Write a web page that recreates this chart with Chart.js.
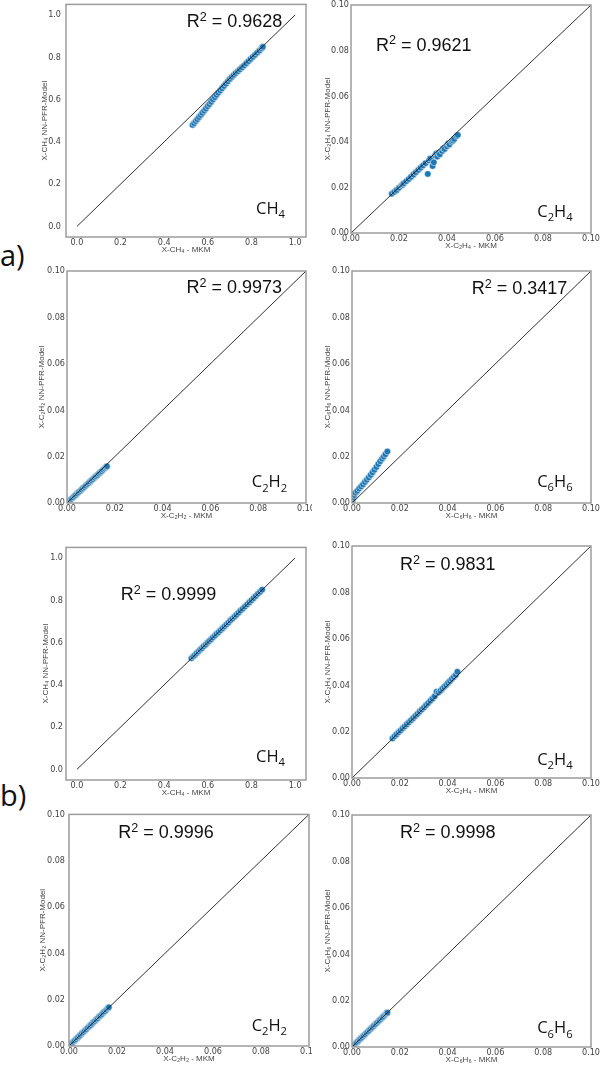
<!DOCTYPE html>
<html>
<head>
<meta charset="utf-8">
<script src="https://cdn.jsdelivr.net/npm/chart.js@4.4.0/dist/chart.umd.min.js"></script>
<style>
html, body { margin: 0; padding: 0; background: #fff; }
body { width: 601px; height: 1069px; position: relative; overflow: hidden; }
canvas { position: absolute; }
canvas.right { background: #fff; }
.tag { position: absolute; left: 0; font-family: 'Open Sans', sans-serif; font-size: 29px; line-height: 1; color: #111; }
</style>
</head>
<body>
<div class="tag" style="top:240px">a)</div>
<div class="tag" style="top:780px">b)</div>
<script>
// tick values
const ticksCH4 = [0.0, 0.2, 0.4, 0.6, 0.8, 1.0];
const ticksSmall = [0.00, 0.02, 0.04, 0.06, 0.08, 0.10];

// R^2 values, panel order: a) CH4, C2H4, C2H2, C6H6, b) CH4, C2H4, C2H2, C6H6
const r2Values = ['0.9628', '0.9621', '0.9973', '0.3417', '0.9999', '0.9831', '0.9996', '0.9998'];

// a) CH4
const aCH4_mkm = [0.530,0.537,0.545,0.552,0.560,0.568,0.575,0.583,0.591,0.599,0.607,0.615,0.623,0.632,0.640,0.648,0.657,0.665,0.674,0.683,0.692,0.701,0.710,0.719,0.728,0.738,0.747,0.757,0.766,0.776,0.786,0.796,0.806,0.816,0.826,0.836,0.846,0.852];
const aCH4_nn  = [0.480,0.488,0.498,0.507,0.517,0.527,0.537,0.547,0.557,0.568,0.578,0.589,0.600,0.611,0.622,0.632,0.643,0.653,0.664,0.675,0.686,0.697,0.707,0.716,0.725,0.734,0.743,0.752,0.761,0.771,0.781,0.791,0.801,0.811,0.821,0.831,0.842,0.849];

// a) C2H4
const aC2H4_mkm = [0.0170,0.0180,0.0190,0.0200,0.0210,0.0215,0.0220,0.0230,0.0240,0.0250,0.0260,0.0270,0.0280,0.0290,0.0300,0.0310,0.0320,0.0325,0.0330,0.0340,0.0345,0.0350,0.0355,0.0360,0.0365,0.0370,0.0380,0.0385,0.0390,0.0400,0.0405,0.0410,0.0420,0.0425,0.0430,0.0440,0.0445];
const aC2H4_nn  = [0.0172,0.0180,0.0188,0.0198,0.0207,0.0212,0.0218,0.0227,0.0236,0.0246,0.0256,0.0266,0.0276,0.0286,0.0296,0.0306,0.0259,0.0318,0.0326,0.0294,0.0310,0.0340,0.0348,0.0335,0.0352,0.0345,0.0360,0.0372,0.0368,0.0380,0.0392,0.0388,0.0400,0.0405,0.0412,0.0425,0.0430];

// a) C2H2
const aC2H2_mkm = [0.0003,0.0008,0.0013,0.0019,0.0025,0.0031,0.0037,0.0043,0.0049,0.0055,0.0061,0.0067,0.0073,0.0079,0.0085,0.0091,0.0097,0.0103,0.0109,0.0115,0.0121,0.0127,0.0133,0.0139,0.0145,0.0151,0.0157,0.0163,0.0167];
const aC2H2_nn  = [0.0004,0.0009,0.0013,0.0018,0.0024,0.0030,0.0035,0.0041,0.0047,0.0052,0.0058,0.0064,0.0069,0.0075,0.0081,0.0086,0.0092,0.0098,0.0103,0.0109,0.0115,0.0120,0.0126,0.0132,0.0137,0.0143,0.0149,0.0154,0.0158];

// a) C6H6
const aC6H6_mkm = [0.0001,0.0003,0.0006,0.0010,0.0015,0.0022,0.0030,0.0038,0.0046,0.0054,0.0062,0.0070,0.0078,0.0086,0.0094,0.0102,0.0110,0.0118,0.0126,0.0133,0.0140,0.0148];
const aC6H6_nn  = [0.0008,0.0016,0.0024,0.0034,0.0044,0.0052,0.0062,0.0071,0.0080,0.0090,0.0100,0.0110,0.0121,0.0132,0.0143,0.0155,0.0168,0.0180,0.0191,0.0200,0.0210,0.0222];

// b) CH4
const bCH4_mkm = [0.525,0.533,0.541,0.549,0.557,0.565,0.573,0.581,0.590,0.598,0.606,0.615,0.623,0.632,0.640,0.649,0.658,0.667,0.676,0.685,0.694,0.703,0.712,0.722,0.731,0.741,0.750,0.760,0.770,0.780,0.790,0.800,0.810,0.820,0.830,0.840,0.849];
const bCH4_nn  = [0.526,0.534,0.541,0.550,0.558,0.566,0.573,0.582,0.590,0.599,0.607,0.615,0.624,0.632,0.641,0.649,0.658,0.667,0.676,0.685,0.694,0.704,0.712,0.722,0.731,0.741,0.751,0.760,0.770,0.780,0.790,0.800,0.810,0.820,0.831,0.840,0.850];

// b) C2H4
const bC2H4_mkm = [0.0170,0.0178,0.0186,0.0195,0.0203,0.0212,0.0220,0.0229,0.0238,0.0247,0.0256,0.0265,0.0274,0.0283,0.0292,0.0301,0.0310,0.0319,0.0328,0.0337,0.0346,0.0354,0.0362,0.0370,0.0378,0.0386,0.0394,0.0402,0.0410,0.0418,0.0426,0.0434,0.0441];
const bC2H4_nn  = [0.0171,0.0180,0.0188,0.0197,0.0205,0.0214,0.0222,0.0231,0.0240,0.0249,0.0258,0.0267,0.0276,0.0286,0.0295,0.0304,0.0314,0.0323,0.0333,0.0342,0.0352,0.0372,0.0368,0.0376,0.0385,0.0393,0.0401,0.0410,0.0418,0.0427,0.0435,0.0444,0.0458];

// b) C2H2
const bC2H2_mkm = [0.0002,0.0007,0.0012,0.0018,0.0024,0.0030,0.0036,0.0042,0.0048,0.0054,0.0060,0.0066,0.0072,0.0078,0.0084,0.0090,0.0096,0.0102,0.0108,0.0114,0.0120,0.0126,0.0132,0.0138,0.0144,0.0150,0.0156,0.0162,0.0166];
const bC2H2_nn  = [0.0002,0.0007,0.0012,0.0018,0.0024,0.0030,0.0036,0.0042,0.0048,0.0055,0.0060,0.0066,0.0072,0.0079,0.0084,0.0090,0.0096,0.0103,0.0108,0.0114,0.0120,0.0127,0.0132,0.0138,0.0145,0.0150,0.0156,0.0163,0.0167];

// b) C6H6
const bC6H6_mkm = [0.0008,0.0013,0.0019,0.0025,0.0031,0.0037,0.0043,0.0049,0.0055,0.0061,0.0067,0.0073,0.0079,0.0085,0.0091,0.0097,0.0103,0.0109,0.0115,0.0121,0.0127,0.0133,0.0139,0.0144,0.0148];
const bC6H6_nn  = [0.0008,0.0013,0.0019,0.0025,0.0031,0.0037,0.0043,0.0049,0.0055,0.0061,0.0067,0.0073,0.0079,0.0085,0.0091,0.0097,0.0103,0.0109,0.0115,0.0121,0.0127,0.0133,0.0139,0.0144,0.0148];

// species names as [text, isSubscript] pieces
const spCH4  = [['CH', 0], ['4', 1]];
const spC2H4 = [['C', 0], ['2', 1], ['H', 0], ['4', 1]];
const spC2H2 = [['C', 0], ['2', 1], ['H', 0], ['2', 1]];
const spC6H6 = [['C', 0], ['6', 1], ['H', 0], ['6', 1]];

// layout: box = plot frame [left, top, right, bottom] in page px
const panels = [
  {mkm: aCH4_mkm,  nn: aCH4_nn,  sp: spCH4,  name: 'CH₄',  big: true,  box: [66, 2, 306, 237],   side: 'l', titleX: 45,  tickPad: 5, r2At: [0.503, 0.942], spAt: [0.821, 0.061]},
  {mkm: aC2H4_mkm, nn: aC2H4_nn, sp: spC2H4, name: 'C₂H₄', big: false, box: [351, 5, 591, 233],  side: 'r', titleX: 328, tickPad: 2, r2At: [0.0104, 0.080], spAt: [0.0776, 0.0071]},
  {mkm: aC2H2_mkm, nn: aC2H2_nn, sp: spC2H2, name: 'C₂H₂', big: false, box: [67, 271, 306, 503], side: 'l', titleX: 42,  tickPad: 2, r2At: [0.050, 0.0904], spAt: [0.0773, 0.0068]},
  {mkm: aC6H6_mkm, nn: aC6H6_nn, sp: spC6H6, name: 'C₆H₆', big: false, box: [352, 271, 591, 503], side: 'r', titleX: 328, tickPad: 2, r2At: [0.0501, 0.0901], spAt: [0.0775, 0.0070]},
  {mkm: bCH4_mkm,  nn: bCH4_nn,  sp: spCH4,  name: 'CH₄',  big: true,  box: [66, 547, 306, 780], side: 'l', titleX: 46,  tickPad: 3, r2At: [0.2007, 0.800], spAt: [0.821, 0.036]},
  {mkm: bC2H4_mkm, nn: bC2H4_nn, sp: spC2H4, name: 'C₂H₄', big: false, box: [352, 546, 591, 778], side: 'r', titleX: 328, tickPad: 2, r2At: [0.0201, 0.0897], spAt: [0.0775, 0.0056]},
  {mkm: bC2H2_mkm, nn: bC2H2_nn, sp: spC2H2, name: 'C₂H₂', big: false, box: [69, 813, 309, 1046], side: 'l', titleX: 43, tickPad: 4, r2At: [0.0205, 0.0898], spAt: [0.0761, 0.0066]},
  {mkm: bC6H6_mkm, nn: bC6H6_nn, sp: spC6H6, name: 'C₆H₆', big: false, box: [352, 815, 591, 1047], side: 'r', titleX: 328, tickPad: 2, r2At: [0.0201, 0.090], spAt: [0.0775, 0.0059]}
];

Chart.defaults.font.family = '"Liberation Sans", Arial, sans-serif';
const tickFamily = '"Liberation Sans Narrow", "DejaVu Sans Condensed", "Liberation Sans", sans-serif';

// draw a run of text pieces with sub/superscripts
function drawRich(ctx, parts, x, y, size, family) {
  ctx.fillStyle = '#111';
  ctx.textAlign = 'left';
  ctx.textBaseline = 'alphabetic';
  parts.forEach(function(p) {
    let s = size, dy = 0;
    if (p[1] === 1) { s = size * 0.68; dy = size * 0.26; }
    if (p[1] === 2) { s = size * 0.7; dy = -size * 0.34; }
    ctx.font = s + 'px ' + family;
    ctx.fillText(p[0], x, y + dy);
    x += ctx.measureText(p[0]).width;
  });
}

const framePlugin = {
  id: 'frameLabels',
  afterDatasetsDraw(chart, args, opts) {
    const ctx = chart.ctx, a = chart.chartArea;
    const xs = chart.scales.x, ys = chart.scales.y;
    ctx.save();
    ctx.strokeStyle = '#9c9c9c';
    ctx.lineWidth = 1.5;
    ctx.strokeRect(a.left, a.top, a.right - a.left, a.bottom - a.top);
    drawRich(ctx, [['R', 0], ['2', 2], [' = ' + opts.r2, 0]],
      xs.getPixelForValue(opts.r2At[0]), ys.getPixelForValue(opts.r2At[1]), 18, '"Liberation Sans", Arial, sans-serif');
    drawRich(ctx, opts.sp,
      xs.getPixelForValue(opts.spAt[0]), ys.getPixelForValue(opts.spAt[1]), 16.5, '"Open Sans", sans-serif');
    ctx.restore();
  }
};

panels.forEach(function(p, i) {
  const [l, t, r, b] = p.box;
  const yW = p.side === 'r' ? l - 312 : 42;
  const padTop = 8, padRight = 10, padBottom = 2, xH = 22;
  const canvas = document.createElement('canvas');
  canvas.width = yW + (r - l) + padRight;
  canvas.height = padTop + (b - t) + xH + padBottom;
  canvas.style.left = (l - yW) + 'px';
  canvas.style.top = (t - padTop) + 'px';
  if (p.side === 'r') canvas.className = 'right';
  document.body.appendChild(canvas);

  const tickVals = p.big ? ticksCH4 : ticksSmall;
  const lo = p.big ? -0.05 : 0, hi = p.big ? 1.05 : 0.1;
  const lineEnd = p.big ? 1.0 : 0.1;
  const digits = p.big ? 1 : 2;
  const points = p.mkm.map(function(v, k) { return {x: v, y: p.nn[k]}; });

  const axis = function(isX) {
    return {
      type: 'linear', min: lo, max: hi,
      grid: {display: false, drawTicks: false},
      border: {display: false},
      afterBuildTicks: function(s) { s.ticks = tickVals.map(function(v) { return {value: v}; }); },
      afterFit: function(s) { if (isX) s.height = xH; else s.width = yW; },
      ticks: {
        color: '#444', font: {size: 9, family: tickFamily}, padding: isX ? 0 : p.tickPad,
        callback: function(v) { return Number(v).toFixed(digits); }
      },
      title: {
        display: true, color: '#444', font: {size: 8},
        text: isX ? 'X-' + p.name + ' - MKM' : 'X-' + p.name + ' NN-PFR-Model',
        padding: isX ? {top: 0, bottom: 4.2} : {top: p.titleX - 4.8 - (l - yW), bottom: 0}
      }
    };
  };

  new Chart(canvas, {
    type: 'scatter',
    data: {
      datasets: [
        {
          type: 'line', data: [{x: 0, y: 0}, {x: lineEnd, y: lineEnd}],
          borderColor: '#1a1a1a', borderWidth: 0.9, pointRadius: 0, fill: false
        },
        {
          data: points, backgroundColor: '#1f77b4',
          borderColor: 'rgba(255,255,255,0.85)', borderWidth: 0.6, pointRadius: 3.3
        }
      ]
    },
    options: {
      responsive: false, animation: false, devicePixelRatio: 1,
      layout: {padding: {top: padTop, right: padRight, bottom: padBottom, left: 0}},
      plugins: {
        legend: {display: false}, tooltip: {enabled: false},
        frameLabels: {r2: r2Values[i], r2At: p.r2At, sp: p.sp, spAt: p.spAt}
      },
      scales: {x: axis(true), y: axis(false)}
    },
    plugins: [framePlugin]
  });
});
</script>
</body>
</html>
